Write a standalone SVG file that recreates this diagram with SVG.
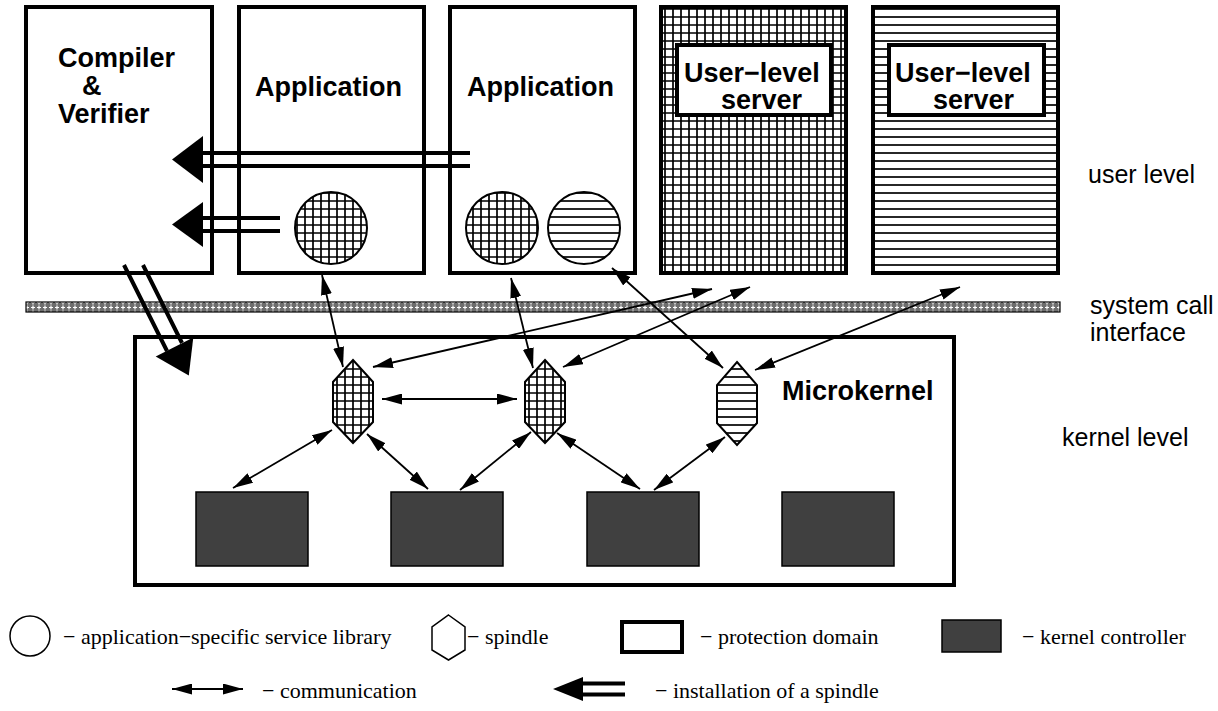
<svg xmlns="http://www.w3.org/2000/svg" width="1218" height="711" viewBox="0 0 1218 711">
<style>
.dom{fill:#fff;stroke:#000;stroke-width:4}
.b{font-family:"Liberation Sans",Arial,sans-serif;font-weight:bold;font-size:27px;fill:#000}
.lv{font-family:"Liberation Sans",Arial,sans-serif;font-size:25px;fill:#000}
.lg{font-family:"Liberation Serif","Times New Roman",serif;font-size:22px;fill:#000}
.kc{fill:#404040;stroke:#000;stroke-width:1.5}
.sp{stroke:#000;stroke-width:2}
.com{fill:none;stroke:#000;stroke-width:1.8;marker-start:url(#ah);marker-end:url(#ah)}
.ins{stroke:#000;stroke-width:4;fill:none}
</style>
<defs>
<pattern id="grid" width="8" height="8" patternUnits="userSpaceOnUse"><rect width="8" height="8" fill="#fff"/><path d="M0,1H8M1,0V8" stroke="#000" stroke-width="1.7"/></pattern>
<pattern id="stripe" width="8" height="8" patternUnits="userSpaceOnUse"><rect width="8" height="8" fill="#fff"/><path d="M0,1H8" stroke="#000" stroke-width="1.7"/></pattern>
<pattern id="sysbar" width="6" height="5" patternUnits="userSpaceOnUse"><rect width="6" height="5" fill="#6e6e6e"/><path d="M1,2.5H5M3,0.5V4.5" stroke="#fff" stroke-width="1.2"/></pattern>
<marker id="ah" viewBox="0 0 20 11" refX="20" refY="5.5" markerWidth="20" markerHeight="11" markerUnits="userSpaceOnUse" orient="auto-start-reverse"><path d="M0,0L20,5.5L0,11z" fill="#000"/></marker>
</defs>

<g id="compiler">
<rect class="dom" x="26" y="7" width="186" height="266"/>
<text class="b" x="58" y="67">Compiler</text>
<text class="b" x="82" y="95">&amp;</text>
<text class="b" x="58" y="123">Verifier</text>
</g>
<g id="app1">
<rect class="dom" x="239" y="7" width="185" height="266"/>
<text class="b" x="255" y="96">Application</text>
<circle cx="331" cy="228" r="36" fill="url(#grid)" stroke="#000" stroke-width="2"/>
</g>
<g id="app2">
<rect class="dom" x="450" y="7" width="185" height="266"/>
<text class="b" x="467" y="96">Application</text>
<circle cx="502" cy="228" r="36" fill="url(#grid)" stroke="#000" stroke-width="2"/>
<circle cx="584" cy="228" r="36" fill="url(#stripe)" stroke="#000" stroke-width="2"/>
</g>
<g id="server1">
<rect x="661" y="7" width="185" height="266" fill="url(#grid)" stroke="#000" stroke-width="4"/>
<rect class="dom" x="677" y="45" width="154" height="70"/>
<text class="b" x="684" y="82">User−level</text>
<text class="b" x="721" y="109">server</text>
</g>
<g id="server2">
<rect x="873" y="7" width="185" height="266" fill="url(#stripe)" stroke="#000" stroke-width="4"/>
<rect class="dom" x="889" y="45" width="155" height="70"/>
<text class="b" x="895" y="82">User−level</text>
<text class="b" x="933" y="109">server</text>
</g>
<g id="syscall-bar">
<rect x="26" y="302" width="1034" height="10" fill="url(#sysbar)" stroke="#000" stroke-width="1.2"/>
</g>
<g id="microkernel">
<rect class="dom" x="135" y="337" width="819" height="248"/>
<text class="b" x="782" y="400">Microkernel</text>
</g>
<g id="spindle1"><polygon class="sp" fill="url(#grid)" points="353,360 373,382 373,422 353,443 333,422 333,382"/></g>
<g id="spindle2"><polygon class="sp" fill="url(#grid)" points="545,360 565,382 565,422 545,443 525,422 525,382"/></g>
<g id="spindle3"><polygon class="sp" fill="url(#stripe)" points="737,362 757,385 757,423 737,445 717,423 717,385"/></g>
<g id="kc1"><rect class="kc" x="196" y="492" width="112" height="74"/></g>
<g id="kc2"><rect class="kc" x="391" y="492" width="112" height="74"/></g>
<g id="kc3"><rect class="kc" x="587" y="492" width="112" height="74"/></g>
<g id="kc4"><rect class="kc" x="782" y="492" width="112" height="74"/></g>

<g id="levels">
<text class="lv" x="1088" y="183">user level</text>
<text class="lv" x="1090" y="314">system call</text>
<text class="lv" x="1090" y="341">interface</text>
<text class="lv" x="1062" y="446">kernel level</text>
</g>

<g id="connectors">
<path class="ins" d="M200,153H470M200,166H470"/>
<polygon points="172,159.5 203,136 203,183"/>
<path class="ins" d="M200,218H280M200,231H280"/>
<polygon points="172,224.5 203,202 203,247"/>
<path class="ins" d="M124,265L167,351M143,265L182,343"/>
<polygon points="155.7,356.4 193.3,337.6 188.8,375.6"/>
<path class="com" d="M322,275L343,367"/>
<path class="com" d="M382,399L517,399"/>
<path class="com" d="M332,430L233,488"/>
<path class="com" d="M367,434L428,489"/>
<path class="com" d="M531,432L460,490"/>
<path class="com" d="M557,433L640,489"/>
<path class="com" d="M725,437L654,490"/>
<path class="com" d="M511,278L533,368"/>
<path class="com" d="M723,368L612,268"/>
<path class="com" d="M373,367L712,289"/>
<path class="com" d="M563,367L750,287"/>
<path class="com" d="M755,370L960,287"/>
</g>

<g id="legend">
<circle cx="30" cy="636" r="20" fill="#fff" stroke="#000" stroke-width="1.5"/>
<text class="lg" x="63" y="644">− application−specific service library</text>
<polygon points="448.5,615 465,627 465,650 448.5,660 432,650 432,627" fill="#fff" stroke="#000" stroke-width="1.5"/>
<text class="lg" x="467" y="644">− spindle</text>
<rect x="622" y="622" width="60" height="30" fill="#fff" stroke="#000" stroke-width="4"/>
<text class="lg" x="700" y="644">− protection domain</text>
<rect class="kc" x="942" y="620" width="59" height="32"/>
<text class="lg" x="1022" y="644">− kernel controller</text>
<path class="com" d="M172,689L243,689"/>
<text class="lg" x="262" y="698">− communication</text>
<path class="ins" d="M580,683.5H625M580,694.5H625"/>
<polygon points="553,689 583,677 583,701"/>
<text class="lg" x="655" y="698">− installation of a spindle</text>
</g>
</svg>
